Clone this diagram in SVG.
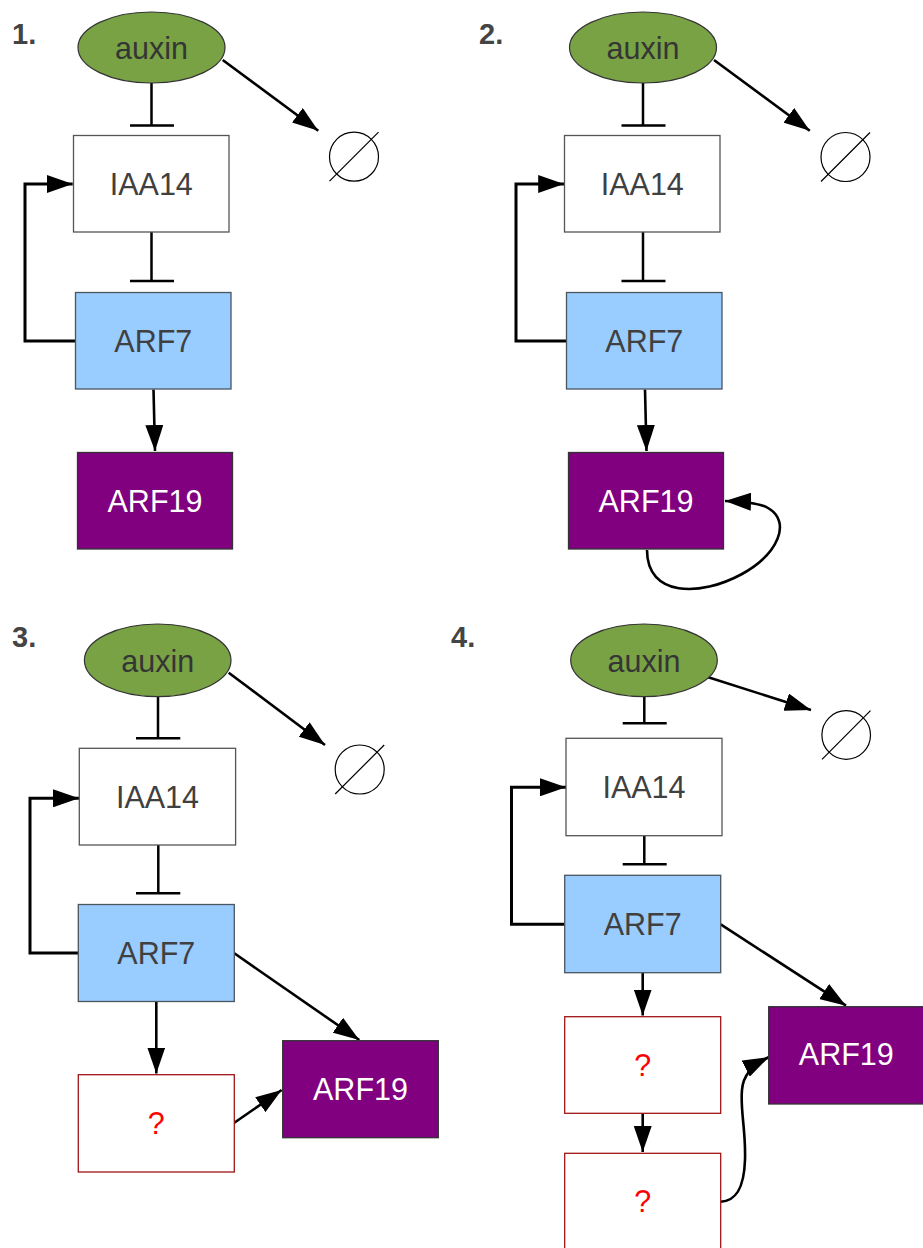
<svg xmlns="http://www.w3.org/2000/svg" width="923" height="1248" viewBox="0 0 923 1248">
<style>
.ell{fill:#78a244;stroke:#333;stroke-width:1.2}
.bw{fill:#fff;stroke:#555;stroke-width:1.3}
.bb{fill:#99ccff;stroke:#4a5560;stroke-width:1.3}
.bp{fill:#800080;stroke:#333;stroke-width:1.3}
.bq{fill:#fff;stroke:#a01515;stroke-width:1.3}
.t{font-family:"Liberation Sans",Arial,sans-serif;font-size:30.5px;text-anchor:middle;fill:#404040}
.ta{fill:#353535}
.tw{fill:#fff}
.tq{fill:#ff0000}
.num{font-family:"Liberation Sans",Arial,sans-serif;font-size:29px;font-weight:bold;fill:#444}
.nul{fill:none;stroke:#000;stroke-width:1.2}
.arr{fill:none;stroke:#000;stroke-width:2.6;marker-end:url(#ah)}
.fb{fill:none;stroke:#000;stroke-width:3;marker-end:url(#ah)}
.inh{fill:none;stroke:#000;stroke-width:2.5}
</style>
<defs>
<marker id="ah" markerUnits="userSpaceOnUse" viewBox="0 0 26 18" markerWidth="26" markerHeight="18" refX="26" refY="9" orient="auto">
<path d="M0,0 L26,9 L0,18 z" fill="#000"/>
</marker>
</defs>

<g id="labels">
<text class="num" x="12" y="43.5">1.</text>
<text class="num" x="479" y="43.5">2.</text>
<text class="num" x="12" y="647">3.</text>
<text class="num" x="451" y="647">4.</text>
</g>

<g id="connectors">
<!-- panel 1 -->
<path class="inh" d="M151.5,83 V125.5 M130,125.5 H174"/>
<path class="arr" d="M222.7,60 L318.3,130.7"/>
<path class="inh" d="M151.5,232 V281 M130,281 H174"/>
<path class="fb" d="M75.5,341 H25 V184 H72.7"/>
<path class="arr" d="M153.5,389.5 L155,451"/>
<!-- panel 2 -->
<path class="inh" d="M643,83 V125.5 M621.5,125.5 H665.5"/>
<path class="arr" d="M714,60 L809.8,130.7"/>
<path class="inh" d="M643,232 V281 M621.5,281 H665.5"/>
<path class="fb" d="M566.5,341 H516 V184 H564.2"/>
<path class="arr" d="M645,389.5 L646.5,451"/>
<path class="arr" d="M647,550 C647,597 700,597 742,574 C778,554 792,522 768,508 Q758,502 725,501"/>
<!-- panel 3 -->
<path class="inh" d="M158,697 V738.3 M136,738.3 H180.3"/>
<path class="arr" d="M228.7,672.7 L325,745"/>
<path class="inh" d="M158.3,845 V893.3 M136,893.3 H180.3"/>
<path class="fb" d="M78.3,953 H30 V798.3 H79"/>
<path class="arr" d="M156.3,1002 V1073.5"/>
<path class="arr" d="M234.3,953.3 L359.3,1040"/>
<path class="arr" d="M234.3,1122.7 L281.7,1090"/>
<!-- panel 4 -->
<path class="inh" d="M644.3,697 V723.3 M622.7,723.3 H666.7"/>
<path class="arr" d="M706.7,676.7 L811,710"/>
<path class="inh" d="M644.3,835.7 V864.3 M622.7,864.3 H666.7"/>
<path class="fb" d="M564.7,924.3 H511.5 V787.3 H566"/>
<path class="arr" d="M642.7,972.7 V1015.5"/>
<path class="arr" d="M642.7,1113.3 V1152"/>
<path class="arr" d="M720.7,924.3 L846,1005.7"/>
<path class="arr" d="M720.7,1201.7 C735,1201 744,1190 745,1160 C746,1130 740,1110 742,1090 C743,1076 751,1066 769,1057"/>
</g>

<!-- panel 1 nodes -->
<g id="auxin1"><ellipse class="ell" cx="151.5" cy="47.5" rx="73.5" ry="35.5"/><text class="t ta" x="151.5" y="59">auxin</text></g>
<g id="null1"><circle class="nul" cx="354" cy="156.7" r="24.5"/><line class="nul" x1="329.5" y1="181.2" x2="378.5" y2="132.2"/></g>
<g id="iaa14_1"><rect class="bw" x="73.5" y="135.5" width="155.5" height="96.5"/><text class="t" x="151.3" y="195">IAA14</text></g>
<g id="arf7_1"><rect class="bb" x="75.5" y="292.5" width="155.5" height="96.5"/><text class="t" x="153.3" y="352">ARF7</text></g>
<g id="arf19_1"><rect class="bp" x="77.5" y="452.5" width="155" height="96.5"/><text class="t tw" x="155" y="512">ARF19</text></g>

<!-- panel 2 nodes -->
<g id="auxin2"><ellipse class="ell" cx="643" cy="47.5" rx="73.5" ry="35.5"/><text class="t ta" x="643" y="59">auxin</text></g>
<g id="null2"><circle class="nul" cx="845.5" cy="157" r="24.5"/><line class="nul" x1="821" y1="181.5" x2="870" y2="132.5"/></g>
<g id="iaa14_2"><rect class="bw" x="564.5" y="135.5" width="155.5" height="96.5"/><text class="t" x="642.3" y="195">IAA14</text></g>
<g id="arf7_2"><rect class="bb" x="566.5" y="292.5" width="155.5" height="96.5"/><text class="t" x="644.3" y="352">ARF7</text></g>
<g id="arf19_2"><rect class="bp" x="568.5" y="452.5" width="155" height="96.5"/><text class="t tw" x="646" y="512">ARF19</text></g>

<!-- panel 3 nodes -->
<g id="auxin3"><ellipse class="ell" cx="157.7" cy="660.3" rx="73.3" ry="36.3"/><text class="t ta" x="157.7" y="671.5">auxin</text></g>
<g id="null3"><circle class="nul" cx="359.7" cy="769.5" r="24.5"/><line class="nul" x1="335.2" y1="794" x2="384.2" y2="745"/></g>
<g id="iaa14_3"><rect class="bw" x="79.3" y="748.3" width="156.3" height="96.7"/><text class="t" x="157.5" y="808">IAA14</text></g>
<g id="arf7_3"><rect class="bb" x="78.3" y="904.5" width="156" height="97"/><text class="t" x="156.3" y="963.5">ARF7</text></g>
<g id="q3"><rect class="bq" x="78.3" y="1074.7" width="156" height="97.3"/><text class="t tq" x="156.3" y="1134">?</text></g>
<g id="arf19_3"><rect class="bp" x="282.7" y="1040.7" width="155.6" height="97"/><text class="t tw" x="360.5" y="1099.5">ARF19</text></g>

<!-- panel 4 nodes -->
<g id="auxin4"><ellipse class="ell" cx="644" cy="660.3" rx="73.3" ry="36.3"/><text class="t ta" x="644" y="671.5">auxin</text></g>
<g id="null4"><circle class="nul" cx="846.2" cy="735" r="24.3"/><line class="nul" x1="822" y1="759.3" x2="870.5" y2="710.7"/></g>
<g id="iaa14_4"><rect class="bw" x="566" y="738.3" width="156" height="97.4"/><text class="t" x="644" y="798">IAA14</text></g>
<g id="arf7_4"><rect class="bb" x="564.7" y="875.3" width="156" height="97.4"/><text class="t" x="642.7" y="935">ARF7</text></g>
<g id="q4a"><rect class="bq" x="564.7" y="1016.7" width="156" height="96.6"/><text class="t tq" x="642.7" y="1076">?</text></g>
<g id="q4b"><rect class="bq" x="564.7" y="1153.3" width="156" height="97"/><text class="t tq" x="642.7" y="1212">?</text></g>
<g id="arf19_4"><rect class="bp" x="768.7" y="1006.7" width="155.3" height="97.3"/><text class="t tw" x="846.3" y="1065">ARF19</text></g>
</svg>
